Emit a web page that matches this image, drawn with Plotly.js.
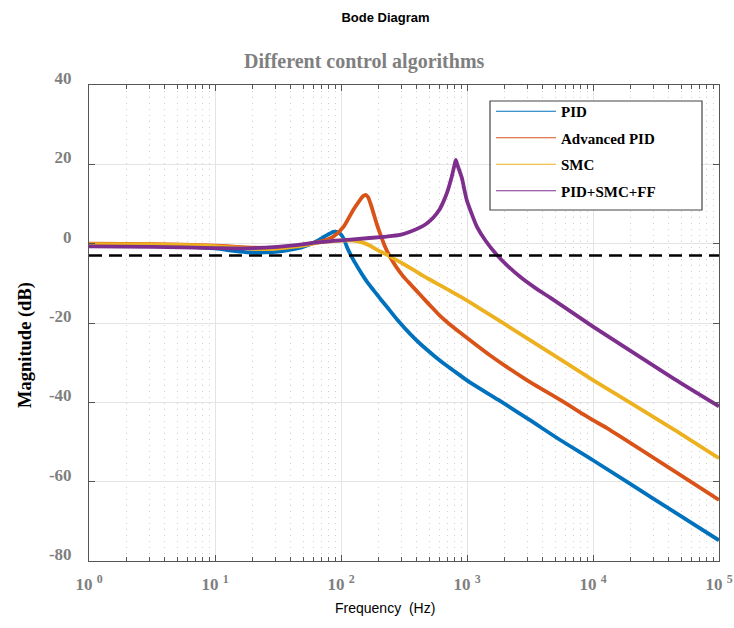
<!DOCTYPE html>
<html>
<head>
<meta charset="utf-8">
<script src="https://cdn.plot.ly/plotly-3.0.1.min.js"></script>
<style>html,body{margin:0;padding:0;background:#fff;}#chart{width:734px;height:628px;}</style>
</head>
<body>
<div id="chart"></div>
<script>
// ---- data (frequency in Hz, magnitude in dB) ----
const seriesNames = ['PID', 'Advanced PID', 'SMC', 'PID+SMC+FF'];
const seriesColors = ['#0072BD', '#D95319', '#EDB120', '#7E2F8E'];

const pidFreq = [1, 3.16, 10, 14, 18.6, 25, 31.6, 40, 50, 63, 74, 87, 94, 100, 106, 111, 118, 126, 138, 151, 165, 181, 205, 231, 282, 355, 427, 550, 692, 881, 1047, 1778, 3162, 5495, 10000, 31623, 100000];
const pidMag  = [-0.3, -0.4, -1.2, -1.8, -2.2, -2.2, -2.0, -1.5, -0.8, 0.5, 1.8, 3.0, 2.9, 2.3, 1.0, -0.7, -2.5, -4.2, -6.3, -8.3, -10.1, -11.7, -13.9, -15.9, -19.3, -22.8, -25.3, -28.3, -30.8, -33.2, -34.9, -39.4, -44.5, -49.5, -54.6, -64.7, -74.8];

const advFreq = [1, 3.16, 10, 20, 30, 45, 68, 87, 105, 125, 140, 150, 157, 164, 172, 181, 192, 204, 222, 245, 275, 313, 360, 425, 500, 611, 740, 881, 1500, 2985, 5495, 10000, 12900, 100000];
const advMag  = [0.0, -0.1, -0.5, -1.0, -1.0, -0.5, 0.5, 1.8, 4.3, 8.5, 10.8, 12.0, 12.3, 11.7, 10.0, 7.7, 5.0, 2.6, -0.5, -3.3, -5.9, -8.3, -10.4, -12.9, -15.3, -18.2, -20.5, -22.4, -28.0, -34.4, -39.4, -44.5, -46.5, -64.6];

const smcFreq = [1, 3.16, 10, 20, 30, 45, 68, 100, 125, 151, 172, 192, 215, 245, 300, 376, 460, 575, 881, 1259, 3162, 10000, 43650, 100000];
const smcMag  = [-0.1, -0.2, -0.6, -1.3, -1.3, -0.7, 0.3, 0.8, 0.8, 0.2, -0.6, -1.5, -2.3, -3.2, -4.8, -6.6, -8.3, -10.0, -13.3, -16.3, -24.3, -34.4, -46.8, -54.1];

const ffFreq = [1, 3.16, 10, 15, 25, 40, 68, 125, 231, 294, 353, 425, 479, 541, 600, 650, 700, 750, 790, 815, 840, 875, 910, 950, 995, 1090, 1197, 1400, 1722, 2100, 2700, 3500, 4571, 10000, 43650, 100000];
const ffMag  = [-0.7, -0.8, -1.1, -1.2, -1.0, -0.5, 0.4, 1.1, 1.8, 2.2, 3.0, 4.1, 5.1, 6.6, 8.4, 10.6, 13.2, 16.4, 19.4, 21.1, 19.8, 18.2, 16.6, 13.8, 11.0, 7.5, 4.3, 0.8, -2.8, -5.6, -8.6, -11.2, -13.6, -20.9, -34.0, -41.0];

const cutoffDb = -3;
const cutoffFreq = [1, 100000];

const xTickVals = [1, 10, 100, 1000, 10000, 100000];
const xTickText = ['10 <sup>0</sup>', '10 <sup>1</sup>', '10 <sup>2</sup>', '10 <sup>3</sup>', '10 <sup>4</sup>', '10 <sup>5</sup>'];
const yTickVals = [-80, -60, -40, -20, 0, 20, 40];
const yTickText = ['-80', '-60', '-40', '-20', '0', '20', '40'];

// ---- build chart ----
const xs = [pidFreq, advFreq, smcFreq, ffFreq];
const ys = [pidMag, advMag, smcMag, ffMag];

const traces = [];
for (let i = 0; i < 4; i++) {
  traces.push({
    type: 'scatter', mode: 'lines', x: xs[i], y: ys[i],
    line: {color: seriesColors[i], width: 3.8, shape: 'spline', smoothing: 0.6},
    showlegend: false, hoverinfo: 'skip'
  });
}
traces.push({
  type: 'scatter', mode: 'lines', x: cutoffFreq, y: [cutoffDb, cutoffDb],
  line: {color: '#000', width: 2.4, dash: '13px,7px'}, showlegend: false, hoverinfo: 'skip'
});
// legend entries (thin sample lines like the reference legend)
for (let i = 0; i < 4; i++) {
  traces.push({
    type: 'scatter', mode: 'lines', x: [null], y: [null], name: seriesNames[i],
    legendgroup: 'g' + i,
    line: {color: seriesColors[i], width: 1.2}, showlegend: true
  });
}

const minorVals = [];
for (let d = 0; d < 5; d++) for (let k = 2; k <= 9; k++) minorVals.push(k * Math.pow(10, d));

const serif = 'Liberation Serif, Times New Roman, serif';
const sans = 'Liberation Sans, Arial, sans-serif';
const L = 89, R = 719, T = 85, B = 561;
const px2x = p => (p - L) / (R - L);
const px2y = p => (B - p) / (B - T);

const layout = {
  width: 734, height: 628,
  margin: {l: 89, r: 15, t: 85, b: 67, pad: 0},
  paper_bgcolor: '#fff', plot_bgcolor: '#fff',
  title: {text: '<b>Bode Diagram</b>', font: {family: sans, size: 13, color: '#000'},
          x: 385.5 / 734, xanchor: 'center', xref: 'container', yref: 'container', y: 1 - 17 / 628, yanchor: 'middle'},
  xaxis: {
    type: 'log', range: [0, 5], tickmode: 'array', tickvals: xTickVals, ticktext: xTickText,
    tickfont: {family: serif, size: 17, color: '#7f7f7f', weight: 'bold'},
    ticks: 'inside', ticklen: 6, tickcolor: '#555', tickwidth: 1,
    showline: true, linecolor: '#555', linewidth: 1, mirror: 'ticks',
    showgrid: true, gridcolor: '#e4e4e4', gridwidth: 1, zeroline: false,
    ticklabelstandoff: 8,
    minor: {tickmode: 'array', tickvals: minorVals, ticks: 'inside', ticklen: 4, tickcolor: '#555',
            showgrid: true, gridcolor: '#cfcfcf', griddash: '1px,5px', gridwidth: 1}
  },
  yaxis: {
    range: [-80, 40], tickmode: 'array', tickvals: yTickVals, ticktext: yTickText,
    tickfont: {family: serif, size: 17, color: '#7f7f7f', weight: 'bold'},
    ticks: 'inside', ticklen: 6, tickcolor: '#555', tickwidth: 1,
    showline: true, linecolor: '#555', linewidth: 1, mirror: 'ticks',
    showgrid: true, gridcolor: '#e4e4e4', gridwidth: 1, zeroline: false,
    ticklabelstandoff: 13, ticklabelshift: -7
  },
  legend: {
    x: px2x(491), y: px2y(95), xanchor: 'left', yanchor: 'top',
    bgcolor: 'rgba(0,0,0,0)', borderwidth: 0, itemwidth: 60, tracegroupgap: 4,
    font: {family: serif, size: 15, color: '#000', weight: 'bold'}
  },
  shapes: [
    {type: 'rect', xref: 'paper', yref: 'paper', x0: px2x(490), x1: px2x(702), y0: px2y(210), y1: px2y(101),
     line: {color: '#444', width: 1.2}, fillcolor: '#fff', layer: 'above'}
  ],
  annotations: [
    {text: '<b>Different control algorithms</b>', xref: 'paper', yref: 'paper', x: px2x(364), y: px2y(62),
     xanchor: 'center', yanchor: 'middle', showarrow: false, font: {family: serif, size: 20, color: '#7f7f7f'}},
    {text: '<b>Magnitude (dB)</b>', xref: 'paper', yref: 'paper', x: px2x(25), y: px2y(345), textangle: -90,
     xanchor: 'center', yanchor: 'middle', showarrow: false, font: {family: serif, size: 18.5, color: '#000'}},
    {text: 'Frequency\u00a0 (Hz)', xref: 'paper', yref: 'paper', x: px2x(385), y: px2y(608),
     xanchor: 'center', yanchor: 'middle', showarrow: false, font: {family: sans, size: 14, color: '#000'}}
  ]
};

Plotly.newPlot('chart', traces, layout, {displayModeBar: false, staticPlot: true});
</script>
</body>
</html>
